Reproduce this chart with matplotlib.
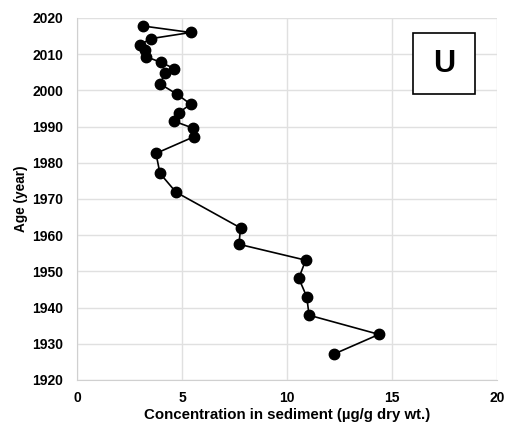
import matplotlib
matplotlib.use("Agg")
import matplotlib.pyplot as plt
from matplotlib.patches import Rectangle

plt.rcParams['font.family'] = ['Liberation Sans', 'DejaVu Sans']

concentration = [3.13, 5.41, 3.52, 3.00, 3.24, 3.29, 3.98, 4.64, 4.19, 3.95,
                 4.75, 5.41, 4.84, 4.62, 5.51, 5.57, 3.76, 3.95, 4.71,
                 7.79, 7.71, 10.89, 10.56, 10.94, 11.05, 14.38, 12.25]
age = [2017.8, 2016.0, 2014.3, 2012.6, 2011.2, 2009.3, 2007.8, 2006.0, 2004.7, 2001.8,
       1999.0, 1996.2, 1993.8, 1991.5, 1989.6, 1987.2, 1982.6, 1977.1, 1971.9,
       1962.0, 1957.5, 1953.1, 1948.1, 1943.0, 1937.9, 1932.6, 1927.2]
xticks = [0, 5, 10, 15, 20]
yticks = list(range(1920, 2021, 10))
panel_label = "U"

fig = plt.figure(figsize=(5.07, 4.28), dpi=100)
ax = fig.add_axes([77/507, 1 - 380/428, 420/507, 362/428])
ax.set_xlim(0, 20)
ax.set_ylim(1920, 2020)
ax.set_xticks(xticks)
ax.set_yticks(yticks)
ax.grid(True, color='#e0e0e0', linewidth=1)
ax.set_axisbelow(True)
for s in ['top', 'right']:
    ax.spines[s].set_visible(False)
for s in ['left', 'bottom']:
    ax.spines[s].set_color('#d0d0d0')
ax.tick_params(length=0, labelsize=10)
ax.tick_params(axis='x', pad=8)
ax.tick_params(axis='y', pad=10)
for lab in ax.get_xticklabels() + ax.get_yticklabels():
    lab.set_fontweight('bold')
ax.plot(concentration, age, color='black', linewidth=1.2, marker='o',
        markersize=7.5, markerfacecolor='black', markeredgecolor='black')
ax.set_xlabel('Concentration in sediment (µg/g dry wt.)', fontsize=10.8, fontweight='bold', labelpad=2)
ax.set_ylabel('Age (year)', fontsize=9.8, fontweight='bold', labelpad=3)

# panel label box
bx0 = (413 - 77) / 420
bx1 = (475 - 77) / 420
by0 = (380 - 94) / 362
by1 = (380 - 33) / 362
ax.add_patch(Rectangle((bx0, by0), bx1 - bx0, by1 - by0, transform=ax.transAxes,
                       facecolor='white', edgecolor='black', linewidth=1.2, zorder=5))
ax.text((bx0 + bx1) / 2, (by0 + by1) / 2, panel_label, transform=ax.transAxes,
        ha='center', va='center', fontsize=22, fontweight='bold', zorder=6)

fig.savefig('out.png', dpi=100)
